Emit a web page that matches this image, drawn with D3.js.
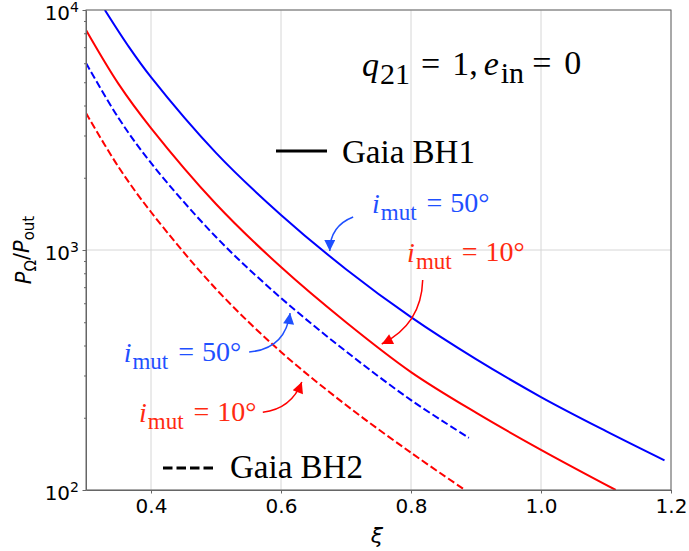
<!DOCTYPE html>
<html>
<head>
<meta charset="utf-8">
<script src="https://cdn.jsdelivr.net/npm/d3@7"></script>
<style>
  body { margin: 0; background: #fff; }
  #chart { width: 689px; height: 551px; }
  svg { display: block; }
</style>
</head>
<body>
<div id="chart"></div>
<script>
// values: xi and P_Omega/P_out for each curve
const bh1Mut50Xi = [0.329, 0.365, 0.4, 0.5, 0.6, 0.7, 0.8, 0.9, 1.0, 1.1, 1.19];
const bh1Mut50P = [10000, 7080, 5250, 2540, 1400, 832, 525, 351, 244, 176, 133];
const bh1Mut10Xi = [0.3, 0.35, 0.4, 0.5, 0.6, 0.7, 0.8, 0.9, 1.0, 1.115];
const bh1Mut10P = [8250, 4920, 3220, 1555, 849, 500, 310, 210, 147, 100];
const bh2Mut50Xi = [0.3, 0.35, 0.4, 0.5, 0.6, 0.7, 0.8, 0.889];
const bh2Mut50P = [6010, 3550, 2305, 1133, 631, 378, 237, 165];
const bh2Mut10Xi = [0.3, 0.35, 0.4, 0.5, 0.6, 0.7, 0.8, 0.883];
const bh2Mut10P = [3720, 2218, 1440, 688, 376, 226, 143, 100];

const xTicks = [0.4, 0.6, 0.8, 1.0, 1.2];
const yTicks = [100, 1000, 10000];
const yTickExp = ["2", "3", "4"];

// annotations (data coords): label position, arrow tail, arrow head
const notes = [
  { deg: "50°", color: "#1f50ff", arrow: "#1f50ff", text: [0.74, 1426], tail: [0.711, 1372], head: [0.675, 991], rad: 0.34 },
  { deg: "10°", color: "#ff2a10", arrow: "#ff0000", text: [0.794, 891], tail: [0.818, 750], head: [0.755, 406], rad: -0.3 },
  { deg: "50°", color: "#1f50ff", arrow: "#1f50ff", text: [0.358, 341], tail: [0.551, 376], head: [0.614, 546], rad: 0.4 },
  { deg: "10°", color: "#ff2a10", arrow: "#ff0000", text: [0.3815, 192], tail: [0.572, 211], head: [0.632, 282], rad: 0.3 }
];

const width = 689, height = 551;
const margin = { top: 10, right: 18, bottom: 61, left: 86 };
const svg = d3.select("#chart").append("svg").attr("width", width).attr("height", height);

const x = d3.scaleLinear().domain([0.3, 1.2]).range([margin.left, width - margin.right]);
const y = d3.scaleLog().domain([100, 10000]).range([height - margin.bottom, margin.top]);

const sans = "DejaVu Sans, sans-serif";
const serif = "Liberation Serif, Times New Roman, serif";

// grid
svg.append("g").selectAll("line").data(xTicks).join("line")
  .attr("x1", d => x(d)).attr("x2", d => x(d)).attr("y1", y(100)).attr("y2", y(10000))
  .attr("stroke", "#d6d6d6").attr("stroke-width", 1);
svg.append("g").selectAll("line").data(yTicks).join("line")
  .attr("x1", x(0.3)).attr("x2", x(1.2)).attr("y1", d => y(d)).attr("y2", d => y(d))
  .attr("stroke", "#d6d6d6").attr("stroke-width", 1);

const defs = svg.append("defs");
defs.append("clipPath").attr("id", "plot").append("rect")
  .attr("x", x(0.3)).attr("y", y(10000)).attr("width", x(1.2) - x(0.3)).attr("height", y(100) - y(10000));

const line = d3.line().x(d => x(d[0])).y(d => y(d[1])).curve(d3.curveCatmullRom.alpha(0.5));
const curves = [
  { xi: bh1Mut50Xi, p: bh1Mut50P, color: "#0000ff", dash: null },
  { xi: bh1Mut10Xi, p: bh1Mut10P, color: "#ff0000", dash: null },
  { xi: bh2Mut50Xi, p: bh2Mut50P, color: "#0000ff", dash: "7.4,3.2" },
  { xi: bh2Mut10Xi, p: bh2Mut10P, color: "#ff0000", dash: "7.4,3.2" }
];
const gLines = svg.append("g").attr("clip-path", "url(#plot)");
curves.forEach(c => {
  gLines.append("path").datum(d3.zip(c.xi, c.p))
    .attr("fill", "none").attr("stroke", c.color).attr("stroke-width", 2)
    .attr("stroke-dasharray", c.dash).attr("d", line);
});

// axes
const xAxis = svg.append("g").attr("transform", `translate(0,${y(100)})`)
  .call(d3.axisBottom(x).tickValues(xTicks).tickFormat(d3.format(".1f")).tickSizeInner(3.5).tickSizeOuter(0).tickPadding(5));
xAxis.selectAll("text").attr("font-family", sans).attr("font-size", 20).attr("fill", "#000");

const minor = [];
[100, 1000].forEach(b => d3.range(2, 10).forEach(k => minor.push(b * k)));
svg.append("g").attr("transform", `translate(${x(0.3)},0)`)
  .call(d3.axisLeft(y).tickValues(minor).tickFormat("").tickSizeInner(2).tickSizeOuter(0))
  .call(g => g.select(".domain").remove());
const yAxis = svg.append("g").attr("transform", `translate(${x(0.3)},0)`)
  .call(d3.axisLeft(y).tickValues(yTicks).tickFormat("").tickSizeInner(3.5).tickSizeOuter(0));
yAxis.selectAll(".tick").each(function (d, i) {
  const t = d3.select(this).select("text").attr("x", -7).attr("dy", "0.45em")
    .attr("font-family", sans).attr("font-size", 20).attr("fill", "#000").attr("text-anchor", "end");
  t.append("tspan").text("10");
  t.append("tspan").attr("dy", "-0.55em").attr("font-size", 14).text(yTickExp[i]);
});

// frame
svg.append("rect").attr("x", x(0.3)).attr("y", y(10000)).attr("width", x(1.2) - x(0.3)).attr("height", y(100) - y(10000))
  .attr("fill", "none").attr("stroke", "#666").attr("stroke-width", 1);
svg.selectAll(".domain").attr("stroke", "#666");
svg.selectAll(".tick line").attr("stroke", "#666");

// axis labels
svg.append("text").attr("x", 377).attr("y", 543).attr("text-anchor", "middle")
  .attr("font-family", sans).attr("font-style", "italic").attr("font-size", 22).text("ξ");
const yl = svg.append("text").attr("transform", "translate(31,250) rotate(-90)").attr("text-anchor", "middle")
  .attr("font-family", sans).attr("font-size", 21);
yl.append("tspan").attr("font-style", "italic").text("P");
yl.append("tspan").attr("font-size", 15).attr("dy", "0.3em").text("Ω");
yl.append("tspan").attr("dy", "-0.3em").text("/");
yl.append("tspan").attr("font-style", "italic").text("P");
yl.append("tspan").attr("font-size", 15).attr("dy", "0.3em").text("out");

// parameter note
const q = svg.append("text").attr("x", 362).attr("y", 76).attr("font-family", serif).attr("font-size", 34);
q.append("tspan").attr("font-style", "italic").text("q");
q.append("tspan").attr("font-size", 30).attr("dy", "0.25em").attr("dx", 1).text("21");
q.append("tspan").attr("dy", "-0.25em").attr("dx", 11).text("=");
q.append("tspan").attr("dx", 12).text("1,");
q.append("tspan").attr("dx", 6).attr("font-style", "italic").text("e");
q.append("tspan").attr("font-size", 30).attr("dy", "0.25em").attr("dx", 2).text("in");
q.append("tspan").attr("dy", "-0.25em").attr("dx", 8).text("=");
q.append("tspan").attr("dx", 13).text("0");

// legend
svg.append("line").attr("x1", 276).attr("x2", 327).attr("y1", 151).attr("y2", 151).attr("stroke", "#000").attr("stroke-width", 3);
svg.append("text").attr("x", 342).attr("y", 163).attr("font-family", serif).attr("font-size", 33).text("Gaia BH1");
svg.append("line").attr("x1", 163).attr("x2", 213).attr("y1", 468).attr("y2", 468).attr("stroke", "#000").attr("stroke-width", 3)
  .attr("stroke-dasharray", "9.5,4");
svg.append("text").attr("x", 230).attr("y", 478).attr("font-family", serif).attr("font-size", 33).text("Gaia BH2");

// annotations with curved arrows
notes.forEach((n, i) => {
  defs.append("marker").attr("id", "head" + i).attr("viewBox", "0 0 10 10").attr("refX", 10).attr("refY", 5)
    .attr("markerUnits", "userSpaceOnUse").attr("markerWidth", 14).attr("markerHeight", 11).attr("orient", "auto")
    .append("path").attr("d", "M0,0 L10,5 L0,10 Z").attr("fill", n.arrow);
  const tx = x(n.tail[0]), ty = y(n.tail[1]), hx = x(n.head[0]), hy = y(n.head[1]);
  const dx = hx - tx, dy = hy - ty;
  const cx = (tx + hx) / 2 - n.rad * dy, cy = (ty + hy) / 2 + n.rad * dx;
  svg.append("path").attr("d", `M${tx},${ty} Q${cx},${cy} ${hx},${hy}`)
    .attr("fill", "none").attr("stroke", n.arrow).attr("stroke-width", 1.5).attr("marker-end", `url(#head${i})`);
  const t = svg.append("text").attr("x", x(n.text[0])).attr("y", y(n.text[1]))
    .attr("font-family", serif).attr("font-size", 28).attr("fill", n.color);
  t.append("tspan").attr("font-style", "italic").text("i");
  t.append("tspan").attr("font-size", 23).attr("dy", "0.3em").attr("dx", 1).text("mut");
  t.append("tspan").attr("dy", "-0.3em").attr("dx", 10).text("=");
  t.append("tspan").attr("dx", 8).text(n.deg);
});
</script>
</body>
</html>
